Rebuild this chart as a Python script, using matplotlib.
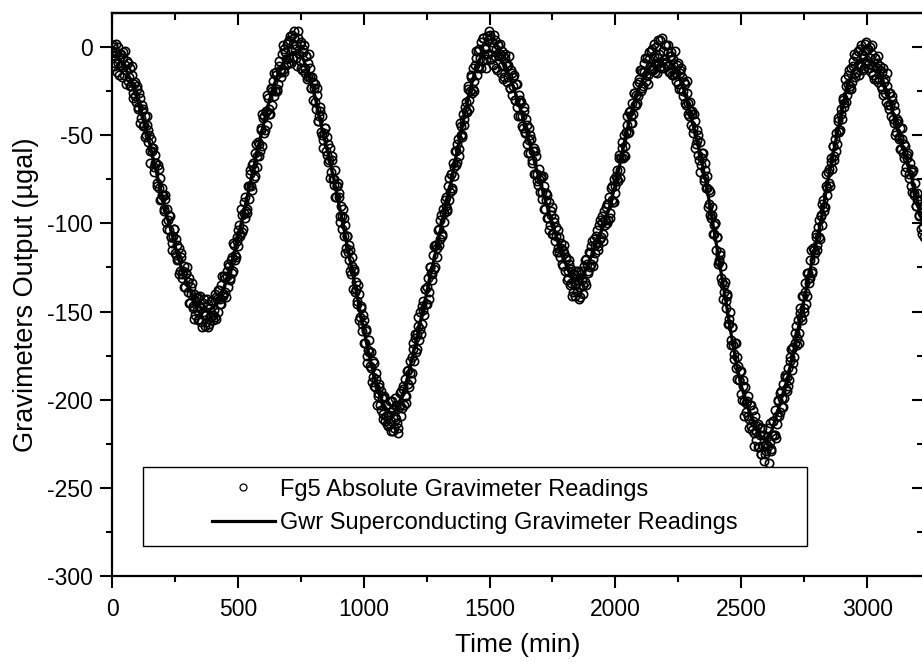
import numpy as np
import matplotlib
matplotlib.use("Agg")
import matplotlib.pyplot as plt
from matplotlib.ticker import MultipleLocator
from matplotlib.patches import Rectangle

plt.rcParams['font.family'] = ['Liberation Sans', 'DejaVu Sans']
plt.rcParams['axes.unicode_minus'] = False

# ---------------- data ----------------
# GWR superconducting gravimeter: one value every 20 min starting at t = 0
GWR_START, GWR_STEP = 0, 20
GWR_Y = [
    -5, -6, -9, -14, -21, -29, -39, -49, -61, -73,
    -85, -97, -107, -118, -127, -135, -141, -146, -149, -150,
    -148, -144, -138, -130, -120, -108, -96, -83, -70, -57,
    -45, -33, -23, -15, -9, -5, -3, -3.5, -7, -14,
    -24, -37, -50, -61, -74, -88, -102, -117, -131, -146,
    -160, -174, -186, -196, -203, -207, -207.5, -203, -195, -184,
    -172, -159, -146, -133, -120, -107, -94, -81, -67, -53,
    -39, -26, -15, -7, -3, -2, -3.5, -6.5, -11, -17,
    -25, -34, -44, -55, -66, -76, -86, -96, -105, -114,
    -122, -128, -132, -131.5, -127, -120, -113, -106, -98, -89,
    -78, -65, -51, -39, -29, -21, -15, -11, -8, -7,
    -7, -9, -13, -19, -28, -39, -51, -63, -77, -94,
    -111, -128, -145, -163, -179, -192, -202, -210, -217, -221,
    -222, -218, -209, -199, -190, -178, -164, -150, -136, -122,
    -110, -96, -79, -64, -50, -36, -23, -15, -10, -7.5,
    -7, -8, -12, -18, -26, -36, -46, -56, -65, -76,
    -88, -100,
]

# FG5 absolute gravimeter readings, set A: every 5 min starting at t = 0
FG5_A_START, FG5_A_STEP = 0, 5
FG5_A_Y = [
    -2, 1, -9, -3, -14, 0, -11, -4, -17, -6, -2, -13, -8, -19, -12, -22, -16, -26, -20, -31,
    -24, -35, -29, -40, -33, -45, -39, -50, -44, -47, -59, -52, -57, -68, -61, -66, -77, -69, -74, -86,
    -80, -93, -86, -99, -92, -104, -96, -108, -111, -103, -117, -109, -121, -114, -127, -119, -131, -124, -136, -128,
    -139, -131, -145, -136, -148, -140, -152, -144, -155, -147, -141, -156, -150, -143, -158, -152, -146, -157, -153, -144,
    -155, -149, -153, -142, -150, -138, -146, -135, -141, -130, -139, -127, -136, -124, -132, -119, -127, -112, -121, -108,
    -113, -101, -107, -95, -103, -88, -97, -92, -79, -86, -72, -81, -66, -74, -60, -68, -54, -62, -47, -56,
    -40, -49, -36, -44, -29, -38, -24, -33, -19, -28, -14, -25, -21, -11, -17, -4, -13, -1, -10, 2,
    -9, 4, -2, 7, -6, 9, 1, -11, 5, -8, 3, -13, -1, -15, -5, -18, -9, -12, -23, -17,
    -30, -21, -35, -27, -42, -34, -48, -39, -53, -46, -59, -51, -65, -57, -71, -64, -78, -70, -85, -79,
    -83, -96, -90, -103, -97, -101, -114, -107, -121, -115, -129, -119, -126, -139, -133, -146, -140, -153, -147, -161,
    -155, -168, -161, -175, -166, -181, -173, -187, -179, -193, -185, -198, -191, -203, -195, -208, -199, -212, -203, -215,
    -213, -201, -218, -206, -216, -199, -211, -219, -204, -196, -209, -192, -203, -188, -198, -183, -193, -178, -185, -171,
    -178, -163, -171, -158, -166, -150, -157, -144, -152, -137, -146, -131, -139, -125, -132, -118, -126, -112, -119, -104,
    -112, -98, -106, -92, -99, -85, -93, -79, -87, -72, -80, -66, -73, -59, -65, -52, -58, -45, -51, -38,
    -44, -31, -37, -24, -30, -17, -26, -12, -19, -6, -16, -2, -11, 3, -8, 5, -1, -12, 6, -4,
    7, -7, 3, -10, 4, -1, -13, 1, -4, -15, -2, -18, -6, -9, -20, -10, -23, -13, -27, -17,
    -30, -21, -34, -27, -39, -31, -45, -36, -49, -41, -55, -46, -60, -52, -66, -57, -72, -62, -76, -69,
    -82, -73, -86, -79, -92, -83, -97, -88, -101, -93, -106, -97, -110, -102, -114, -108, -119, -111, -124, -117,
    -127, -119, -131, -123, -135, -126, -139, -129, -141, -134, -127, -143, -136, -129, -140, -124, -133, -120, -128, -116,
    -125, -113, -120, -109, -117, -104, -113, -101, -109, -96, -106, -93, -101, -89, -98, -85, -94, -79, -88, -75,
    -83, -70, -76, -63, -70, -57, -63, -50, -56, -44, -49, -37, -43, -32, -38, -26, -33, -21, -28, -18,
    -25, -14, -22, -9, -19, -6, -16, -3, -13, -1, -12, 2, -9, -15, 4, -4, -11, 5, -2, -12,
    1, -11, -3, -14, -5, -16, -7, -15, -19, -10, -21, -13, -24, -17, -28, -21, -33, -26, -38, -31,
    -44, -36, -49, -42, -55, -47, -61, -54, -67, -60, -74, -66, -80, -73, -89, -82, -97, -91, -106, -100,
    -115, -108, -122, -116, -131, -124, -139, -133, -148, -141, -157, -150, -166, -159, -174, -168, -182, -176, -189, -184,
    -197, -189, -201, -193, -207, -198, -211, -203, -215, -206, -219, -209, -223, -214, -227, -216, -231, -220, -235, -226,
    -229, -216, -236, -224, -228, -212, -220, -206, -214, -201, -209, -196, -204, -191, -199, -187, -195, -182, -189, -176,
    -183, -170, -176, -162, -169, -155, -162, -148, -155, -141, -148, -134, -141, -128, -134, -121, -127, -114, -121, -108,
    -115, -102, -108, -95, -101, -87, -93, -79, -84, -71, -77, -63, -69, -56, -62, -49, -55, -42, -48, -35,
    -41, -29, -34, -22, -27, -16, -24, -12, -20, -8, -17, -5, -14, -2, -11, 1, -4, -13, 2, -9,
    -1, -12, 0, -14, -4, -16, -6, -18, -9, -20, -11, -22, -14, -27, -18, -31, -22, -35, -26, -39,
    -30, -43, -36, -48, -41, -52, -46, -58, -52, -63, -56, -68, -61, -72, -66, -79, -71, -84, -77, -90,
    -83, -96, -89, -103, -94, -108,
]

# FG5 absolute gravimeter readings, set B: every 5 min starting at t = 2.5
FG5_B_START, FG5_B_STEP = 2.5, 5
FG5_B_Y = [
    0, -11, -5, 2, -9, -16, -4, -10, -3, -16, -10, -21, -9, -17, -22, -11, -29, -21, -28, -22,
    -34, -26, -43, -36, -35, -44, -51, -39, -54, -50, -66, -59, -57, -71, -66, -79, -67, -80, -87, -84,
    -84, -92, -84, -103, -98, -95, -108, -115, -107, -103, -118, -112, -120, -129, -117, -129, -127, -136, -128, -125,
    -133, -145, -140, -134, -147, -154, -142, -149, -142, -154, -148, -159, -145, -152, -156, -143, -159, -148, -153, -144,
    -152, -140, -154, -143, -138, -143, -146, -130, -140, -131, -142, -130, -123, -131, -121, -128, -111, -118, -119, -110,
    -104, -106, -92, -105, -94, -85, -93, -94, -79, -70, -79, -67, -69, -73, -55, -62, -55, -59, -46, -38,
    -39, -47, -37, -27, -35, -38, -23, -25, -15, -25, -16, -24, -8, -13, -14, 1, -14, -3, -7, 3,
    -6, 6, -9, 2, 5, -1, -6, 9, -4, 2, -12, -3, 1, -12, -5, -17, -4, -17, -23, -20,
    -23, -31, -23, -42, -39, -36, -50, -57, -49, -46, -61, -55, -64, -74, -62, -75, -75, -85, -79, -77,
    -85, -99, -96, -92, -107, -117, -107, -116, -112, -127, -124, -137, -127, -137, -144, -135, -155, -148, -157, -152,
    -168, -160, -179, -172, -173, -182, -190, -178, -192, -188, -203, -196, -193, -206, -199, -211, -198, -209, -214, -209,
    -207, -212, -201, -218, -210, -203, -213, -216, -203, -195, -205, -194, -198, -202, -184, -191, -185, -189, -176, -168,
    -165, -173, -163, -153, -160, -163, -147, -149, -137, -146, -136, -143, -125, -128, -129, -113, -125, -112, -114, -103,
    -109, -95, -107, -94, -87, -90, -92, -74, -82, -72, -81, -68, -59, -67, -55, -62, -43, -50, -50, -41,
    -34, -36, -22, -35, -25, -16, -24, -25, -10, -2, -12, -1, -6, -12, 5, -4, 0, -7, 4, 9,
    5, -7, 0, 7, -5, -12, 1, -5, 2, -11, -5, -17, -4, -11, -17, -5, -23, -15, -22, -16,
    -30, -21, -39, -31, -30, -39, -46, -34, -48, -44, -60, -53, -50, -64, -59, -72, -59, -72, -78, -75,
    -74, -82, -73, -92, -87, -84, -97, -104, -95, -91, -106, -99, -107, -116, -104, -116, -114, -123, -115, -112,
    -120, -132, -127, -121, -134, -141, -129, -135, -127, -139, -132, -142, -127, -132, -135, -121, -135, -123, -127, -117,
    -123, -110, -124, -112, -107, -111, -115, -98, -108, -99, -110, -98, -91, -100, -89, -97, -80, -87, -88, -79,
    -73, -75, -61, -74, -63, -54, -61, -62, -48, -39, -48, -36, -39, -43, -26, -33, -27, -32, -20, -13,
    -13, -23, -14, -6, -16, -21, -7, -11, -2, -13, -5, -14, 0, -6, -9, 4, -12, -2, -7, 1,
    -9, 1, -14, -5, -3, -10, -16, -2, -15, -9, -24, -15, -12, -25, -20, -32, -19, -32, -39, -36,
    -38, -46, -38, -57, -53, -50, -64, -71, -63, -60, -76, -70, -80, -91, -81, -95, -95, -106, -101, -100,
    -108, -123, -121, -118, -133, -143, -135, -144, -140, -157, -154, -169, -159, -169, -177, -168, -188, -181, -189, -184,
    -200, -192, -209, -202, -201, -209, -216, -203, -217, -212, -226, -218, -215, -227, -220, -231, -216, -226, -231, -225,
    -221, -226, -213, -229, -220, -212, -220, -222, -209, -200, -207, -195, -199, -204, -186, -194, -187, -192, -178, -171,
    -171, -179, -168, -158, -165, -168, -151, -153, -141, -150, -139, -146, -128, -131, -131, -115, -128, -115, -117, -106,
    -112, -98, -109, -96, -89, -91, -91, -72, -80, -69, -79, -65, -56, -64, -52, -59, -40, -47, -47, -38,
    -30, -32, -18, -31, -21, -13, -22, -24, -11, -4, -15, -5, -10, -16, -1, -10, -6, -12, -2, 3,
    -1, -12, -6, 1, -11, -18, -6, -12, -5, -18, -13, -24, -12, -20, -26, -15, -33, -26, -33, -28,
    -41, -33, -50, -43, -42, -51, -58, -46, -60, -55, -71, -63, -60, -74, -69, -82, -70, -83, -90, -87,
    -87, -95, -87, -106, -102,
]

X_LABEL = "Time (min)"
Y_LABEL = "Gravimeters Output (µgal)"
LEGEND_LABELS = ["Fg5 Absolute Gravimeter Readings",
                 "Gwr Superconducting Gravimeter Readings"]
X_TICKS = [0, 500, 1000, 1500, 2000, 2500, 3000]
Y_TICKS = [-300, -250, -200, -150, -100, -50, 0]
X_RANGE = (0, 3226)
Y_RANGE = (-300, 19.3)

# ---------------- figure ----------------
W, H = 922, 662
fig = plt.figure(figsize=(W / 100, H / 100), dpi=100)
L, R, T, B = 112, 924, 13, 576
ax = fig.add_axes([L / W, (H - B) / H, (R - L) / W, (B - T) / H])

fg5_t = np.concatenate([FG5_A_START + FG5_A_STEP * np.arange(len(FG5_A_Y)),
                        FG5_B_START + FG5_B_STEP * np.arange(len(FG5_B_Y))])
fg5_y = np.concatenate([FG5_A_Y, FG5_B_Y])
gwr_t = GWR_START + GWR_STEP * np.arange(len(GWR_Y))

h1, = ax.plot(fg5_t, fg5_y, ls='none', marker='o', ms=6.0, mfc='none',
              mec='black', mew=1.2, zorder=2, label=LEGEND_LABELS[0])
h2, = ax.plot(gwr_t, GWR_Y, color='black', lw=2.3, zorder=3,
              label=LEGEND_LABELS[1])

ax.set_xlim(*X_RANGE)
ax.set_ylim(*Y_RANGE)
ax.set_xticks(X_TICKS)
ax.set_yticks(Y_TICKS)
ax.xaxis.set_minor_locator(MultipleLocator(250))
ax.yaxis.set_minor_locator(MultipleLocator(25))
ax.tick_params(which='both', direction='out', top=False, right=False,
               width=1.5, labelsize=16.5, colors='black')
ax.tick_params(which='major', length=8.8)
ax.tick_params(which='minor', length=4.6)
ax.tick_params(axis='x', which='major', pad=7)
ax.tick_params(axis='y', which='major', pad=5)
for s in ax.spines.values():
    s.set_linewidth(1.6)

secx = ax.secondary_xaxis('top')
secx.set_xticks(X_TICKS)
secx.xaxis.set_minor_locator(MultipleLocator(250))
secx.tick_params(which='both', direction='in', labeltop=False, width=1.5)
secx.tick_params(which='major', length=8.8)
secx.tick_params(which='minor', length=5)
secx.spines['top'].set_linewidth(1.6)

secy = ax.secondary_yaxis('right')
secy.set_yticks(Y_TICKS)
secy.yaxis.set_minor_locator(MultipleLocator(25))
secy.tick_params(which='both', direction='in', labelright=False, width=1.5)
secy.tick_params(which='major', length=8.8)
secy.tick_params(which='minor', length=5)
secy.spines['right'].set_linewidth(1.6)

ax.set_xlabel(X_LABEL, fontsize=19, labelpad=9)
ax.set_ylabel(Y_LABEL, fontsize=19.5)
ax.yaxis.set_label_coords(-0.090, 0.5)

# legend box (wide frame, centered entries)
bx0, bx1, by0, by1 = 143, 807, 467, 546
rect = Rectangle(((bx0 - L) / (R - L), (B - by1) / (B - T)),
                 (bx1 - bx0) / (R - L), (by1 - by0) / (B - T),
                 transform=ax.transAxes, facecolor='white', edgecolor='black',
                 lw=1.0, zorder=4)
ax.add_patch(rect)
leg = ax.legend(handles=[h1, h2], loc='center', frameon=False,
                bbox_to_anchor=(((bx0 + bx1) / 2 - L) / (R - L),
                                (B - (by0 + by1) / 2) / (B - T)),
                fontsize=17, handlelength=2.65, handletextpad=0.25,
                labelspacing=0.5, borderpad=0.2, numpoints=1)
leg.legend_handles[0].set_markersize(5.0)
leg.legend_handles[0].set_markeredgewidth(0.9)
leg.set_zorder(5)

fig.savefig('out.png', dpi=100)
